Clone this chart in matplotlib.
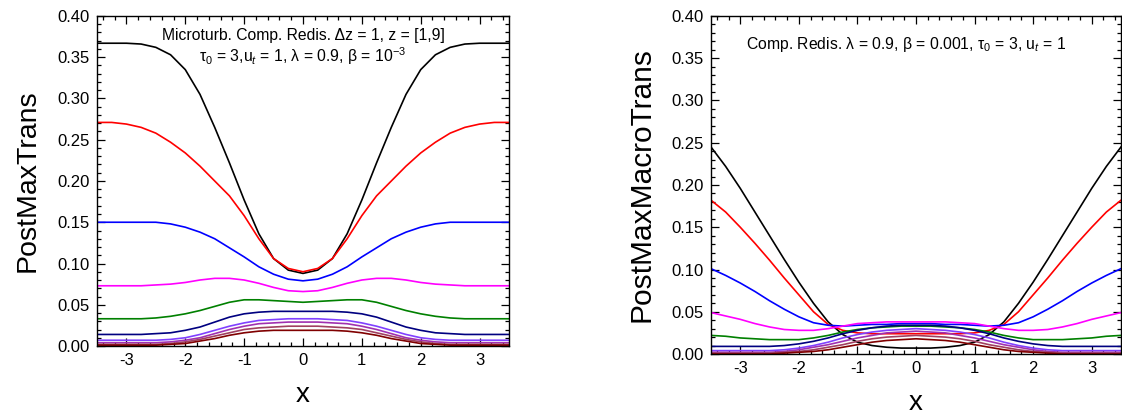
import numpy as np
import matplotlib
matplotlib.use("Agg")
import matplotlib.pyplot as plt
from matplotlib.ticker import MultipleLocator, FormatStrFormatter

plt.rcParams["font.family"] = ["Liberation Sans", "DejaVu Sans"]
plt.rcParams["mathtext.fontset"] = "custom"
plt.rcParams["mathtext.rm"] = "Liberation Sans"
plt.rcParams["mathtext.it"] = "Liberation Sans:italic"
plt.rcParams["axes.unicode_minus"] = False

x = [-3.5, -3.25, -3.0, -2.75, -2.5, -2.25, -2.0, -1.75, -1.5, -1.25, -1.0, -0.75, -0.5, -0.25,
     0.0, 0.25, 0.5, 0.75, 1.0, 1.25, 1.5, 1.75, 2.0, 2.25, 2.5, 2.75, 3.0, 3.25, 3.5]

colors = ["#000000", "#FF0000", "#0000FF", "#FF00FF", "#008000",
          "#000080", "#8040FF", "#A030B0", "#A04060", "#800000"]

# PostMaxTrans, microturbulent complete redistribution
trans_black = [0.367, 0.367, 0.367, 0.366, 0.362, 0.353, 0.335, 0.305, 0.265, 0.222, 0.177, 0.136, 0.106, 0.092,
               0.088, 0.092, 0.106, 0.136, 0.177, 0.222, 0.265, 0.305, 0.335, 0.353, 0.362, 0.366, 0.367, 0.367, 0.367]
trans_red = [0.271, 0.271, 0.269, 0.265, 0.258, 0.247, 0.234, 0.218, 0.200, 0.182, 0.158, 0.130, 0.106, 0.094,
             0.090, 0.094, 0.106, 0.130, 0.158, 0.182, 0.200, 0.218, 0.234, 0.247, 0.258, 0.265, 0.269, 0.271, 0.271]
trans_blue = [0.150, 0.150, 0.150, 0.150, 0.150, 0.148, 0.144, 0.138, 0.130, 0.119, 0.108, 0.096, 0.087, 0.081,
              0.079, 0.081, 0.087, 0.096, 0.108, 0.119, 0.130, 0.138, 0.144, 0.148, 0.150, 0.150, 0.150, 0.150, 0.150]
trans_magenta = [0.073, 0.073, 0.073, 0.073, 0.074, 0.075, 0.077, 0.080, 0.082, 0.082, 0.080, 0.076, 0.071, 0.067,
                 0.066, 0.067, 0.071, 0.076, 0.080, 0.082, 0.082, 0.080, 0.077, 0.075, 0.074, 0.073, 0.073, 0.073, 0.073]
trans_green = [0.033, 0.033, 0.033, 0.033, 0.034, 0.036, 0.039, 0.043, 0.048, 0.053, 0.056, 0.056, 0.055, 0.054,
               0.053, 0.054, 0.055, 0.056, 0.056, 0.053, 0.048, 0.043, 0.039, 0.036, 0.034, 0.033, 0.033, 0.033, 0.033]
trans_navy = [0.014, 0.014, 0.014, 0.014, 0.015, 0.016, 0.019, 0.023, 0.029, 0.035, 0.039, 0.041, 0.042, 0.042,
              0.042, 0.042, 0.042, 0.041, 0.039, 0.035, 0.029, 0.023, 0.019, 0.016, 0.015, 0.014, 0.014, 0.014, 0.014]
trans_violet = [0.007, 0.007, 0.007, 0.007, 0.007, 0.008, 0.010, 0.014, 0.019, 0.024, 0.028, 0.031, 0.032, 0.033,
                0.033, 0.033, 0.032, 0.031, 0.028, 0.024, 0.019, 0.014, 0.010, 0.008, 0.007, 0.007, 0.007, 0.007, 0.007]
trans_purple = [0.004, 0.004, 0.004, 0.004, 0.004, 0.005, 0.007, 0.010, 0.015, 0.020, 0.024, 0.027, 0.028, 0.029,
                0.029, 0.029, 0.028, 0.027, 0.024, 0.020, 0.015, 0.010, 0.007, 0.005, 0.004, 0.004, 0.004, 0.004, 0.004]
trans_rose = [0.002, 0.002, 0.002, 0.002, 0.002, 0.003, 0.005, 0.008, 0.012, 0.016, 0.020, 0.022, 0.023, 0.024,
              0.024, 0.024, 0.023, 0.022, 0.020, 0.016, 0.012, 0.008, 0.005, 0.003, 0.002, 0.002, 0.002, 0.002, 0.002]
trans_wine = [0.001, 0.001, 0.001, 0.001, 0.001, 0.002, 0.003, 0.006, 0.009, 0.013, 0.016, 0.018, 0.019, 0.019,
              0.019, 0.019, 0.019, 0.018, 0.016, 0.013, 0.009, 0.006, 0.003, 0.002, 0.001, 0.001, 0.001, 0.001, 0.001]

# PostMaxMacroTrans, complete redistribution
macro_black = [0.245, 0.222, 0.196, 0.168, 0.140, 0.112, 0.085, 0.060, 0.038, 0.023, 0.014, 0.010, 0.008, 0.007,
               0.007, 0.007, 0.008, 0.010, 0.014, 0.023, 0.038, 0.060, 0.085, 0.112, 0.140, 0.168, 0.196, 0.222, 0.245]
macro_red = [0.182, 0.168, 0.150, 0.131, 0.111, 0.090, 0.070, 0.050, 0.035, 0.028, 0.025, 0.024, 0.024, 0.024,
             0.024, 0.024, 0.024, 0.024, 0.025, 0.028, 0.035, 0.050, 0.070, 0.090, 0.111, 0.131, 0.150, 0.168, 0.182]
macro_blue = [0.101, 0.093, 0.084, 0.074, 0.063, 0.053, 0.044, 0.037, 0.034, 0.033, 0.034, 0.035, 0.035, 0.036,
              0.036, 0.036, 0.035, 0.035, 0.034, 0.033, 0.034, 0.037, 0.044, 0.053, 0.063, 0.074, 0.084, 0.093, 0.101]
macro_magenta = [0.049, 0.045, 0.041, 0.036, 0.032, 0.029, 0.028, 0.028, 0.030, 0.033, 0.036, 0.037, 0.038, 0.038,
                 0.038, 0.038, 0.038, 0.037, 0.036, 0.033, 0.030, 0.028, 0.028, 0.029, 0.032, 0.036, 0.041, 0.045, 0.049]
macro_green = [0.022, 0.021, 0.019, 0.018, 0.017, 0.017, 0.017, 0.019, 0.022, 0.026, 0.029, 0.031, 0.032, 0.033,
               0.033, 0.033, 0.032, 0.031, 0.029, 0.026, 0.022, 0.019, 0.017, 0.017, 0.017, 0.018, 0.019, 0.021, 0.022]
macro_navy = [0.009, 0.009, 0.009, 0.009, 0.009, 0.010, 0.012, 0.015, 0.019, 0.024, 0.028, 0.031, 0.033, 0.034,
              0.034, 0.034, 0.033, 0.031, 0.028, 0.024, 0.019, 0.015, 0.012, 0.010, 0.009, 0.009, 0.009, 0.009, 0.009]
macro_violet = [0.004, 0.004, 0.004, 0.004, 0.004, 0.005, 0.007, 0.010, 0.014, 0.019, 0.023, 0.026, 0.028, 0.029,
                0.030, 0.029, 0.028, 0.026, 0.023, 0.019, 0.014, 0.010, 0.007, 0.005, 0.004, 0.004, 0.004, 0.004, 0.004]
macro_purple = [0.002, 0.002, 0.002, 0.002, 0.002, 0.003, 0.005, 0.008, 0.011, 0.015, 0.019, 0.022, 0.025, 0.026,
                0.027, 0.026, 0.025, 0.022, 0.019, 0.015, 0.011, 0.008, 0.005, 0.003, 0.002, 0.002, 0.002, 0.002, 0.002]
macro_rose = [0.001, 0.001, 0.001, 0.001, 0.001, 0.002, 0.003, 0.005, 0.008, 0.011, 0.015, 0.018, 0.020, 0.021,
              0.022, 0.021, 0.020, 0.018, 0.015, 0.011, 0.008, 0.005, 0.003, 0.002, 0.001, 0.001, 0.001, 0.001, 0.001]
macro_wine = [0.000, 0.000, 0.000, 0.000, 0.000, 0.001, 0.002, 0.003, 0.005, 0.008, 0.011, 0.014, 0.016, 0.017,
              0.018, 0.017, 0.016, 0.014, 0.011, 0.008, 0.005, 0.003, 0.002, 0.001, 0.000, 0.000, 0.000, 0.000, 0.000]

trans_series = [trans_black, trans_red, trans_blue, trans_magenta, trans_green,
                trans_navy, trans_violet, trans_purple, trans_rose, trans_wine]
macro_series = [macro_black, macro_red, macro_blue, macro_magenta, macro_green,
                macro_navy, macro_violet, macro_purple, macro_rose, macro_wine]

W, H = 1122, 415
fig = plt.figure(figsize=(W / 100, H / 100), dpi=100)
ax1 = fig.add_axes([97 / W, 1 - 346 / H, (509 - 97) / W, (346 - 16) / H])
ax2 = fig.add_axes([711 / W, 1 - 354 / H, (1121 - 711) / W, (354 - 16) / H])


def style(ax, ylabel, yfont):
    ax.set_xlim(-3.5, 3.5)
    ax.set_ylim(0.0, 0.40)
    ax.xaxis.set_major_locator(MultipleLocator(1))
    ax.xaxis.set_minor_locator(MultipleLocator(0.2))
    ax.yaxis.set_major_locator(MultipleLocator(0.05))
    ax.yaxis.set_minor_locator(MultipleLocator(0.01))
    ax.yaxis.set_major_formatter(FormatStrFormatter("%.2f"))
    ax.tick_params(which="both", direction="in", top=True, right=True,
                   labelsize=12, width=0.9)
    ax.tick_params(which="major", length=6, pad=5)
    ax.tick_params(which="minor", length=3)
    for s in ax.spines.values():
        s.set_linewidth(1.0)
    ax.set_xlabel("x", fontsize=20, labelpad=10)
    ax.set_ylabel(ylabel, fontsize=yfont, labelpad=12)


for ys, c in zip(trans_series, colors):
    ax1.plot(x, ys, color=c, lw=1.2)
for ys, c in zip(macro_series, colors):
    ax2.plot(x, ys, color=c, lw=1.2)

style(ax1, "PostMaxTrans", 20.5)
style(ax2, "PostMaxMacroTrans", 21.5)

ax1.text(0.5, 0.965, "Microturb. Comp. Redis. Δz = 1, z = [1,9]",
         transform=ax1.transAxes, ha="center", va="top", fontsize=11.3)
ax1.text(0.5, 0.91, "τ$_0$ = 3,u$_t$ = 1, λ = 0.9, β = 10$^{-3}$",
         transform=ax1.transAxes, ha="center", va="top", fontsize=11.3)
ax2.text(0.475, 0.945, "Comp. Redis. λ = 0.9, β = 0.001, τ$_0$ = 3, u$_t$ = 1",
         transform=ax2.transAxes, ha="center", va="top", fontsize=11.3)

fig.savefig("out.png", dpi=100)
